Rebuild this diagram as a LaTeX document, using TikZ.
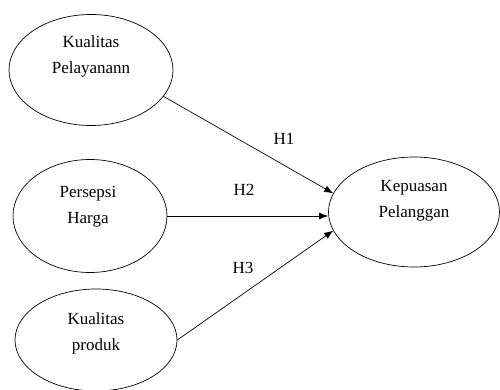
\documentclass[tikz,border=0pt]{standalone}
\usepackage{fontspec}
\setmainfont{Liberation Serif}
\usepackage{tikz}
\usetikzlibrary{arrows.meta,shapes.geometric,calc}

\begin{document}
\begin{tikzpicture}[x=1pt,y=-1pt,
  var/.style={draw,ellipse,line width=0.7pt,inner sep=0pt},
  txt/.style={align=center,font=\fontsize{17}{26}\selectfont},
  hyp/.style={font=\fontsize{17}{20}\selectfont},
  link/.style={-{Latex[length=9pt,width=7pt]},line width=0.7pt}]
\useasboundingbox (0,0) rectangle (500,390);
\node[var,minimum width=164pt,minimum height=111pt] (kp) at (91,70) {};
\node[var,minimum width=154pt,minimum height=113pt] (ph) at (90,216) {};
\node[var,minimum width=162pt,minimum height=102pt] (kpr) at (96,340) {};
\node[var,minimum width=171pt,minimum height=110pt] (kep) at (414,212) {};
\node[txt] (kptxt) at ([yshift=13.5pt]kp.center) {Kualitas\\Pelayanann};
\node[txt] (phtxt) at ([xshift=-2pt,yshift=9.5pt]ph.center) {Persepsi\\Harga};
\node[txt] (kprtxt) at ([yshift=7pt]kpr.center) {Kualitas\\produk};
\node[txt] (keptxt) at ([yshift=11.5pt]kep.center) {Kepuasan\\Pelanggan};
\draw[link] (kp.-20) -- (kep.167);
\draw[link] (ph.east) -- (kep.west |- ph.east);
\draw[link] (kpr.east) -- (kep.193);
\node[hyp] (h1) at (284,139) {H1};
\node[hyp] (h2) at (244,190) {H2};
\node[hyp] (h3) at (243,268) {H3};
\end{tikzpicture}
\end{document}
